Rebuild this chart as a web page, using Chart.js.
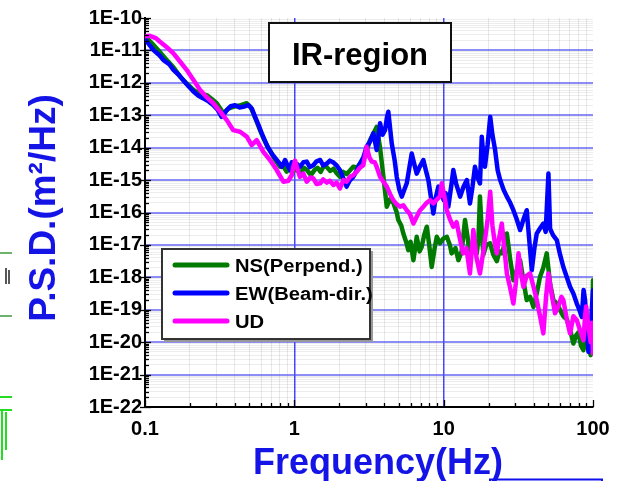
<!DOCTYPE html>
<html>
<head>
<meta charset="utf-8">
<script src="https://cdn.jsdelivr.net/npm/chart.js@4.4.1/dist/chart.umd.min.js"></script>
<style>
  html, body { margin: 0; padding: 0; background: #fff; }
</style>
</head>
<body>
<canvas id="psd" width="630" height="481"></canvas>
<script>
// values: [frequency Hz, log10 of PSD m^2/Hz]
const nsPoints = [
  [0.100, -10.60], [0.106, -10.68], [0.114, -10.83], [0.124, -11.02], [0.140, -11.30],
  [0.155, -11.52], [0.172, -11.81], [0.190, -12.02], [0.211, -12.22], [0.235, -12.35],
  [0.259, -12.38], [0.280, -12.50], [0.302, -12.63], [0.320, -12.80], [0.335, -12.94],
  [0.360, -12.80], [0.390, -12.74], [0.430, -12.70], [0.480, -12.63], [0.510, -12.75],
  [0.531, -12.94], [0.560, -13.20], [0.589, -13.46], [0.620, -13.70], [0.653, -13.92],
  [0.690, -14.10], [0.723, -14.28], [0.762, -14.45], [0.802, -14.59], [0.850, -14.60],
  [0.890, -14.74], [0.930, -14.60], [0.970, -14.80], [1.01, -14.62], [1.05, -14.70],
  [1.10, -14.80], [1.16, -14.62], [1.22, -14.70], [1.29, -14.85], [1.36, -14.70],
  [1.43, -14.62], [1.50, -14.75], [1.58, -14.55], [1.65, -14.60], [1.74, -14.72],
  [1.83, -14.65], [1.93, -14.80], [2.02, -14.90], [2.13, -14.75], [2.24, -14.82],
  [2.36, -14.70], [2.48, -14.59], [2.62, -14.62], [2.75, -14.50], [2.90, -14.38],
  [3.05, -14.10], [3.21, -13.77], [3.40, -13.55], [3.56, -13.36], [3.75, -14.00],
  [3.95, -14.90], [4.16, -15.82], [4.35, -15.60], [4.60, -15.70], [4.85, -16.00],
  [4.97, -16.23], [5.20, -16.40], [5.37, -16.65], [5.60, -16.90], [5.80, -17.16],
  [6.00, -16.90], [6.27, -17.47], [6.60, -16.75], [6.90, -17.20], [7.13, -17.06],
  [7.40, -16.70], [7.71, -16.44], [8.00, -17.00], [8.32, -17.68], [8.70, -17.10],
  [8.99, -16.75], [9.46, -16.95], [9.95, -16.80], [10.5, -16.75], [11.0, -17.00],
  [11.3, -17.26], [12.0, -17.10], [12.55, -17.47], [13.2, -17.20], [13.9, -16.23],
  [14.5, -16.80], [15.0, -17.35], [15.8, -17.10], [16.66, -17.26], [17.1, -16.80],
  [17.5, -15.51], [18.0, -16.60], [18.45, -17.30], [19.3, -17.00], [20.46, -16.95],
  [21.5, -17.30], [22.7, -17.50], [23.6, -17.20], [24.5, -17.26], [25.5, -17.00],
  [26.5, -16.65], [27.8, -17.40], [29.3, -18.09], [30.8, -17.80], [32.5, -17.47],
  [34.2, -18.10], [36.0, -18.70], [37.9, -18.60], [39.9, -18.91], [42.0, -18.50],
  [44.2, -17.98], [46.5, -17.70], [49.0, -17.26], [51.6, -18.20], [54.3, -18.70],
  [57.2, -18.80], [60.2, -19.01], [63.3, -19.20], [66.8, -19.30], [70.2, -19.60],
  [73.9, -20.04], [77.0, -19.80], [79.9, -19.70], [83.0, -20.10], [86.3, -20.25],
  [88.5, -19.90], [91.0, -19.75], [93.2, -20.10], [96.5, -20.40], [99.0, -19.60],
  [100, -18.09]
];
const ewPoints = [
  [0.100, -10.65], [0.104, -10.75], [0.114, -10.99], [0.125, -11.15], [0.133, -11.30],
  [0.145, -11.42], [0.155, -11.60], [0.168, -11.75], [0.180, -11.91], [0.195, -12.10],
  [0.211, -12.27], [0.228, -12.40], [0.246, -12.48], [0.268, -12.58], [0.287, -12.69],
  [0.305, -12.82], [0.326, -13.05], [0.340, -12.95], [0.353, -12.84], [0.375, -12.72],
  [0.401, -12.69], [0.430, -12.76], [0.455, -12.74], [0.492, -12.69], [0.520, -12.80],
  [0.546, -13.05], [0.575, -13.30], [0.605, -13.56], [0.635, -13.78], [0.670, -14.02],
  [0.710, -14.20], [0.762, -14.38], [0.800, -14.50], [0.824, -14.59], [0.867, -14.38],
  [0.900, -14.55], [0.936, -14.69], [0.960, -14.45], [0.985, -14.60], [1.04, -14.50],
  [1.09, -14.59], [1.15, -14.45], [1.21, -14.43], [1.27, -14.60], [1.34, -14.54],
  [1.41, -14.42], [1.49, -14.38], [1.56, -14.55], [1.65, -14.49], [1.73, -14.40],
  [1.83, -14.46], [1.92, -14.55], [2.02, -14.69], [2.13, -14.95], [2.24, -15.20],
  [2.36, -15.00], [2.48, -14.90], [2.62, -14.70], [2.75, -14.49], [2.90, -14.30],
  [3.05, -13.97], [3.22, -13.80], [3.38, -13.56], [3.56, -14.07], [3.75, -13.25],
  [3.90, -13.60], [4.05, -13.46], [4.16, -13.10], [4.26, -12.89], [4.49, -13.87],
  [4.70, -14.40], [4.85, -14.90], [5.05, -15.30], [5.24, -15.51], [5.45, -15.30],
  [5.66, -15.10], [5.90, -14.60], [6.11, -14.18], [6.35, -14.50], [6.60, -14.80],
  [6.90, -14.60], [7.31, -14.38], [7.60, -14.70], [7.90, -15.00], [8.20, -15.50],
  [8.53, -16.03], [8.80, -15.60], [9.22, -15.20], [9.70, -15.40], [10.0, -15.62],
  [10.3, -15.40], [10.75, -15.82], [11.3, -15.10], [11.6, -14.69], [12.1, -15.10],
  [12.9, -15.51], [13.6, -15.20], [14.3, -15.00], [15.0, -15.72], [15.6, -15.20],
  [16.2, -14.59], [16.8, -14.90], [17.5, -15.10], [18.0, -13.66], [18.5, -14.30],
  [18.9, -14.59], [19.7, -13.90], [20.5, -13.05], [21.2, -13.60], [22.1, -14.07],
  [23.0, -14.70], [23.9, -15.00], [25.2, -15.30], [26.5, -15.51], [27.9, -15.70],
  [29.3, -15.93], [30.8, -16.20], [32.5, -16.54], [34.3, -16.20], [36.0, -15.93],
  [37.5, -16.90], [38.9, -17.78], [40.5, -17.10], [42.0, -16.65], [44.0, -16.50],
  [46.5, -16.34], [48.2, -16.60], [50.3, -14.80], [51.6, -16.50], [54.0, -16.70],
  [57.2, -16.85], [60.2, -17.30], [63.3, -17.68], [66.8, -18.00], [70.2, -18.29],
  [73.9, -18.50], [77.9, -18.81], [81.0, -19.00], [84.1, -19.22], [86.5, -18.39],
  [88.5, -18.70], [91.0, -19.60], [93.2, -20.30], [96.0, -19.80], [98.2, -19.00],
  [100, -18.40]
];
const udPoints = [
  [0.100, -10.56], [0.108, -10.55], [0.118, -10.62], [0.126, -10.73], [0.140, -10.90],
  [0.155, -11.09], [0.172, -11.35], [0.190, -11.60], [0.210, -11.90], [0.234, -12.22],
  [0.260, -12.45], [0.287, -12.63], [0.320, -12.90], [0.353, -13.15], [0.390, -13.46],
  [0.433, -13.51], [0.480, -13.66], [0.518, -13.92], [0.560, -13.77], [0.620, -14.13],
  [0.687, -14.38], [0.762, -14.69], [0.844, -15.05], [0.912, -15.02], [0.960, -14.85],
  [0.985, -14.59], [1.011, -14.40], [1.04, -14.60], [1.09, -14.90], [1.15, -14.80],
  [1.21, -15.05], [1.28, -14.92], [1.34, -14.95], [1.41, -15.12], [1.49, -15.10],
  [1.56, -14.98], [1.65, -15.08], [1.73, -15.02], [1.83, -15.15], [1.92, -15.08],
  [2.02, -15.26], [2.13, -15.00], [2.24, -15.05], [2.36, -14.90], [2.48, -14.85],
  [2.62, -14.74], [2.75, -14.62], [2.90, -14.54], [3.05, -13.97], [3.18, -14.30],
  [3.30, -14.43], [3.45, -14.45], [3.56, -14.59], [3.75, -14.90], [3.95, -15.05],
  [4.16, -15.20], [4.40, -15.45], [4.60, -15.62], [4.85, -15.75], [5.10, -15.82],
  [5.37, -15.78], [5.66, -15.93], [5.95, -16.05], [6.27, -16.34], [6.60, -16.13],
  [6.90, -15.95], [7.31, -15.82], [7.70, -15.70], [8.11, -15.62], [8.53, -15.72],
  [8.99, -15.60], [9.46, -15.50], [9.71, -15.10], [10.2, -15.60], [10.5, -15.93],
  [11.0, -16.20], [11.6, -16.44], [12.2, -16.30], [12.9, -16.85], [13.5, -17.26],
  [14.2, -17.10], [15.0, -17.88], [15.8, -16.54], [16.6, -17.40], [17.5, -17.88],
  [18.3, -17.30], [18.9, -16.85], [19.7, -16.20], [20.5, -15.36], [21.2, -16.40],
  [22.1, -17.00], [22.7, -17.26], [23.5, -16.80], [24.5, -16.34], [25.5, -17.10],
  [26.5, -17.88], [27.8, -18.30], [29.3, -18.81], [30.4, -18.20], [31.7, -17.26],
  [33.0, -17.90], [34.2, -18.29], [36.0, -17.95], [37.9, -17.88], [40.0, -18.30],
  [42.0, -18.70], [44.2, -19.20], [46.5, -19.73], [48.5, -18.60], [50.3, -17.88],
  [52.8, -18.50], [55.7, -19.11], [58.5, -18.90], [61.5, -18.60], [63.3, -18.70],
  [66.8, -19.30], [70.2, -19.73], [73.9, -19.20], [77.9, -19.32], [81.5, -19.60],
  [86.3, -19.94], [88.5, -19.20], [90.0, -18.90], [93.2, -19.53], [96.5, -20.00],
  [98.5, -19.40], [100, -20.35]
];

const seriesNames = ['NS(Perpend.)', 'EW(Beam-dir.)', 'UD'];
const seriesColors = ['#007a00', '#0000ff', '#ff00ff'];
const xTickLabels = ['0.1', '1', '10', '100'];
const yDecades = [-22, -21, -20, -19, -18, -17, -16, -15, -14, -13, -12, -11, -10];

const FONT = "'Liberation Sans', Arial, sans-serif";

function toXY(points) {
  return points.map(p => ({ x: p[0], y: Math.pow(10, p[1]) }));
}

function isDecade(v) {
  const l = Math.log10(v);
  return Math.abs(l - Math.round(l)) < 1e-6;
}

// titles, legend box, label box, inward ticks
const overlay = {
  id: 'overlay',
  afterDraw(chart) {
    const ctx = chart.ctx;
    const xs = chart.scales.x, ys = chart.scales.y;
    const area = chart.chartArea;
    ctx.save();

    ctx.strokeStyle = '#000';
    ctx.lineWidth = 1.3;
    xs.ticks.forEach(t => {
      const px = Math.round(xs.getPixelForValue(t.value)) + 0.5;
      const len = isDecade(t.value) ? 7 : 4;
      ctx.beginPath();
      ctx.moveTo(px, area.bottom);
      ctx.lineTo(px, area.bottom - len);
      ctx.stroke();
    });
    ys.ticks.forEach(t => {
      const py = Math.round(ys.getPixelForValue(t.value)) + 0.5;
      const major = isDecade(t.value);
      ctx.beginPath();
      ctx.moveTo(major ? area.left - 5 : area.left, py);
      ctx.lineTo(area.left + (major ? 6 : 4), py);
      ctx.stroke();
    });

    // IR-region box
    ctx.fillStyle = '#fff';
    ctx.fillRect(269, 23, 182, 59);
    ctx.strokeStyle = '#111';
    ctx.lineWidth = 2;
    ctx.strokeRect(269, 23, 182, 59);
    ctx.fillStyle = '#000';
    ctx.font = 'bold 31px ' + FONT;
    ctx.textAlign = 'center';
    ctx.textBaseline = 'alphabetic';
    ctx.fillText('IR-region', 360, 65);

    // legend
    ctx.fillStyle = '#fff';
    ctx.fillRect(162, 249, 208, 90);
    ctx.strokeStyle = '#333';
    ctx.lineWidth = 2;
    ctx.strokeRect(162, 249, 208, 90);
    ctx.strokeStyle = '#999';
    ctx.beginPath();
    ctx.moveTo(164, 341); ctx.lineTo(372, 341); ctx.lineTo(372, 251);
    ctx.stroke();
    chart.data.datasets.forEach((ds, i) => {
      const y = 265 + i * 28;
      ctx.strokeStyle = ds.borderColor;
      ctx.lineWidth = 5;
      ctx.lineCap = 'round';
      ctx.beginPath();
      ctx.moveTo(175, y);
      ctx.lineTo(227, y);
      ctx.stroke();
      ctx.save();
      ctx.translate(235, y + 6.5);
      ctx.scale(1.12, 1);
      ctx.fillStyle = '#000';
      ctx.font = 'bold 18px ' + FONT;
      ctx.textAlign = 'left';
      ctx.fillText(ds.label, 0, 0);
      ctx.restore();
    });

    // axis titles
    ctx.fillStyle = '#1414e6';
    ctx.font = 'bold 36px ' + FONT;
    ctx.textAlign = 'center';
    ctx.fillText('Frequency(Hz)', 378, 474);
    ctx.save();
    ctx.translate(55, 208);
    ctx.rotate(-Math.PI / 2);
    ctx.font = 'bold 37px ' + FONT;
    ctx.fillText('P.S.D.(m\u00B2/Hz)', 0, 0);
    ctx.restore();

    // cropped bits of the neighbouring figures
    ctx.lineCap = 'butt';
    ctx.strokeStyle = '#3c9a3c';
    ctx.lineWidth = 1.5;
    [253, 316].forEach(y => { ctx.beginPath(); ctx.moveTo(0, y); ctx.lineTo(12, y); ctx.stroke(); });
    ctx.strokeStyle = '#222';
    ctx.beginPath(); ctx.moveTo(6, 268); ctx.lineTo(6, 284); ctx.moveTo(9, 270); ctx.lineTo(9, 284); ctx.stroke();
    ctx.strokeStyle = '#22dd22';
    ctx.lineWidth = 2;
    ctx.beginPath(); ctx.moveTo(0, 397); ctx.lineTo(12, 397); ctx.moveTo(0, 410); ctx.lineTo(12, 410);
    ctx.moveTo(2, 410); ctx.lineTo(2, 460); ctx.moveTo(6, 412); ctx.lineTo(6, 450); ctx.stroke();
    ctx.strokeStyle = '#1010ee';
    ctx.beginPath(); ctx.moveTo(490, 481); ctx.lineTo(490, 479.5); ctx.lineTo(602, 479.5); ctx.lineTo(602, 481); ctx.stroke();

    ctx.restore();
  }
};

const datasets = [nsPoints, ewPoints, udPoints].map((pts, i) => ({
  label: seriesNames[i],
  data: toXY(pts),
  borderColor: seriesColors[i],
  backgroundColor: seriesColors[i],
  borderWidth: 4.5,
  borderJoinStyle: 'round',
  borderCapStyle: 'round',
  pointRadius: 0,
  tension: 0,
  order: 3 - i
}));

new Chart(document.getElementById('psd'), {
  type: 'line',
  data: { datasets: datasets },
  options: {
    responsive: false,
    animation: false,
    layout: { padding: { left: 0, right: 37, top: 18, bottom: 0 } },
    plugins: { legend: { display: false }, tooltip: { enabled: false } },
    scales: {
      x: {
        type: 'logarithmic',
        position: 'bottom',
        min: 0.1,
        max: 100,
        afterBuildTicks: scale => {
          const t = [];
          for (let e = -1; e < 2; e++) {
            for (let k = 1; k < 10; k++) t.push({ value: k * Math.pow(10, e) });
          }
          t.push({ value: 100 });
          scale.ticks = t;
        },
        afterFit: scale => { scale.height = 74; },
        ticks: {
          autoSkip: false,
          maxRotation: 0,
          padding: 10,
          color: '#000',
          font: { family: FONT, size: 20, weight: 'bold' },
          callback: v => isDecade(v) ? xTickLabels[Math.round(Math.log10(v)) + 1] : ''
        },
        grid: {
          drawTicks: false,
          color: c => {
            const v = c.tick.value;
            if (v <= 0.1 + 1e-9 || v >= 100 - 1e-9) return 'rgba(0,0,0,0)';
            return isDecade(v) ? '#4646ff' : 'rgba(0,0,0,0.09)';
          },
          lineWidth: c => isDecade(c.tick.value) ? 1.5 : 1
        },
        border: { display: true, color: '#000', width: 2 }
      },
      y: {
        type: 'logarithmic',
        min: 1e-22,
        max: 1e-10,
        afterBuildTicks: scale => {
          const t = [];
          yDecades.slice(0, -1).forEach(e => {
            for (let k = 1; k < 10; k++) t.push({ value: k * Math.pow(10, e) });
          });
          t.push({ value: Math.pow(10, yDecades[yDecades.length - 1]) });
          scale.ticks = t;
        },
        afterFit: scale => { scale.width = 145; },
        ticks: {
          autoSkip: false,
          padding: 3,
          color: '#000',
          font: { family: FONT, size: 20, weight: 'bold' },
          callback: v => isDecade(v) ? '1E' + Math.round(Math.log10(v)) : ''
        },
        grid: {
          drawTicks: false,
          color: c => {
            const v = c.tick.value;
            const l = Math.round(Math.log10(v));
            if (isDecade(v) && (l === -10 || l === -22)) return 'rgba(0,0,0,0)';
            return isDecade(v) ? 'rgba(80,80,245,0.65)' : 'rgba(0,0,0,0.07)';
          },
          lineWidth: c => isDecade(c.tick.value) ? 2 : 1
        },
        border: { display: true, color: '#000', width: 2 }
      }
    }
  },
  plugins: [overlay]
});
</script>
</body>
</html>
